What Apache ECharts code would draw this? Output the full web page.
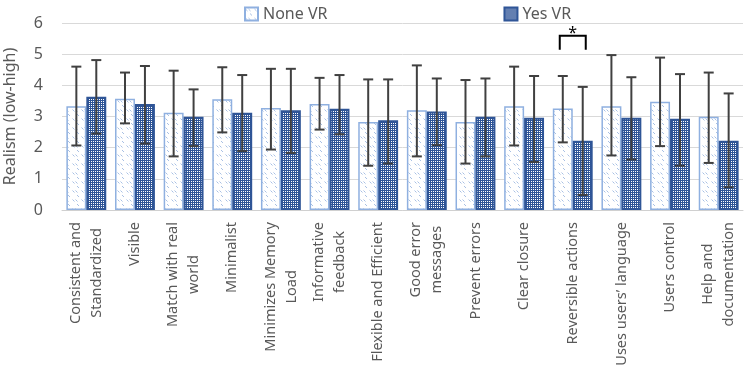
<!DOCTYPE html>
<html>
<head>
	<meta charset="utf-8">
	<script type="text/javascript" src="https://cdn.jsdelivr.net/npm/echarts@6/dist/echarts.min.js"></script>
	<style>body{margin:0;background:#fff;}</style>
</head>
<body>
	<div id="main" style="width:747px;height:376px;"></div>
	<script type="text/javascript">
		var categories = ['Consistent and\nStandardized', 'Visible', 'Match with real\nworld', 'Minimalist',
			'Minimizes Memory\nLoad', 'Informative\nfeedback', 'Flexible and Efficient', 'Good error\nmessages',
			'Prevent errors', 'Clear closure', 'Reversible actions', 'Uses users\u2019 language', 'Users control',
			'Help and\ndocumentation'];
		var noneVR   = [3.33, 3.57, 3.12, 3.55, 3.27, 3.40, 2.82, 3.20, 2.82, 3.33, 3.26, 3.33, 3.47, 2.99];
		var noneLow  = [2.07, 2.78, 1.72, 2.49, 1.94, 2.58, 1.42, 1.72, 1.49, 2.07, 2.17, 1.75, 2.05, 1.51];
		var noneHigh = [4.60, 4.41, 4.47, 4.58, 4.53, 4.24, 4.19, 4.64, 4.17, 4.60, 4.30, 4.97, 4.89, 4.41];
		var yesVR    = [3.63, 3.40, 2.99, 3.12, 3.20, 3.25, 2.88, 3.16, 2.99, 2.96, 2.22, 2.96, 2.93, 2.22];
		var yesLow   = [2.45, 2.13, 2.05, 1.89, 1.83, 2.43, 1.49, 2.08, 1.72, 1.54, 0.48, 1.62, 1.42, 0.73];
		var yesHigh  = [4.81, 4.62, 3.87, 4.33, 4.53, 4.33, 4.19, 4.22, 4.22, 4.30, 3.95, 4.26, 4.36, 3.74];
		var yTicks = [0, 1, 2, 3, 4, 5, 6];
		// significance marker: category index, bracket top, bracket leg bottom
		var sigMark = [[10, 5.59, 5.14]];

		var FONT = 'Noto Sans';
		var GAP = 0.18;

		// hatch patterns for the bars
		function makePattern(kind) {
			var c = document.createElement('canvas');
			var ctx = c.getContext('2d');
			if (kind === 'none') {
				c.width = 9; c.height = 9;
				ctx.fillStyle = '#ffffff';
				ctx.fillRect(0, 0, 9, 9);
				ctx.strokeStyle = '#a8c0e4';
				ctx.lineWidth = 1;
				ctx.beginPath();
				ctx.moveTo(0.5, 1.5); ctx.lineTo(2.5, 3.5);
				ctx.moveTo(3.5, 1.5); ctx.lineTo(5.5, 3.5);
				ctx.moveTo(5, 6); ctx.lineTo(7, 8);
				ctx.stroke();
			} else {
				c.width = 2; c.height = 2;
				ctx.fillStyle = '#2f5597';
				ctx.fillRect(0, 0, 2, 2);
				ctx.fillStyle = '#ffffff';
				ctx.fillRect(1, 1, 1, 1);
			}
			return { image: c, repeat: 'repeat' };
		}

		function errorItem(sign) {
			return function (params, api) {
				var idx = api.value(0);
				var lo = api.coord([idx, api.value(1)]);
				var hi = api.coord([idx, api.value(2)]);
				var barW = api.size([1, 0])[0] * (1 - GAP) / 2;
				var x = hi[0] + sign * barW / 2;
				var cap = 5;
				var st = { stroke: '#404040', lineWidth: 2 };
				return {
					type: 'group',
					children: [
						{ type: 'line', shape: { x1: x, y1: hi[1], x2: x, y2: lo[1] }, style: st },
						{ type: 'line', shape: { x1: x - cap, y1: hi[1], x2: x + cap, y2: hi[1] }, style: st },
						{ type: 'line', shape: { x1: x - cap, y1: lo[1], x2: x + cap, y2: lo[1] }, style: st }
					]
				};
			};
		}

		function sigItem(params, api) {
			var idx = api.value(0);
			var top = api.coord([idx, api.value(1)]);
			var bot = api.coord([idx, api.value(2)]);
			var half = 13;
			return {
				type: 'group',
				children: [
					{
						type: 'polyline',
						shape: { points: [[top[0] - half, bot[1]], [top[0] - half, top[1]], [top[0] + half, top[1]], [top[0] + half, bot[1]]] },
						style: { stroke: '#000000', lineWidth: 2, fill: null }
					},
					{
						type: 'text',
						style: { text: '*', x: top[0], y: top[1] - 2, align: 'center', verticalAlign: 'middle',
							fontSize: 16, fontFamily: FONT, fill: '#000000' }
					}
				]
			};
		}

		function pairs(lo, hi) {
			var out = [];
			for (var i = 0; i < lo.length; i++) out.push([i, lo[i], hi[i]]);
			return out;
		}

		var chart = echarts.init(document.getElementById('main'));
		chart.setOption({
			animation: false,
			textStyle: { fontFamily: FONT },
			legend: {
				left: 239, top: 1,
				itemGap: 176,
				itemWidth: 13, itemHeight: 13,
				icon: 'rect',
				textStyle: { fontSize: 16, color: '#595959', fontFamily: FONT },
				data: ['None VR', 'Yes VR']
			},
			grid: { left: 62, right: 4, top: 23, bottom: 166, containLabel: false, outerBoundsMode: 'none' },
			xAxis: {
				type: 'category',
				data: categories,
				axisLine: { lineStyle: { color: '#d0d0d0', width: 1 } },
				axisTick: { show: false },
				axisLabel: {
					interval: 0,
					rotate: 90,
					margin: 12,
					fontSize: 14,
					color: '#595959',
					formatter: function (v) {
						return v.split('\n').map(function (s) { return '{c|' + s + '}'; }).join('\n');
					},
					rich: { c: { align: 'center', fontSize: 14.5, lineHeight: 21, color: '#595959', fontFamily: FONT } }
				}
			},
			yAxis: {
				type: 'value',
				min: yTicks[0], max: yTicks[yTicks.length - 1], interval: 1,
				name: 'Realism (low-high)',
				nameLocation: 'middle',
				nameGap: 44,
				nameTextStyle: { fontSize: 16, color: '#595959', fontFamily: FONT },
				axisLine: { show: false },
				axisTick: { show: false },
				axisLabel: { fontSize: 16, color: '#595959', margin: 19 },
				splitLine: { lineStyle: { color: '#d9d9d9', width: 1 } }
			},
			series: [
				{
					name: 'None VR', type: 'bar', data: noneVR,
					barGap: '0%', barCategoryGap: (GAP * 100) + '%',
					itemStyle: { color: makePattern('none'), borderColor: '#8fb0e0', borderWidth: 1.5 }
				},
				{
					name: 'Yes VR', type: 'bar', data: yesVR,
					itemStyle: { color: makePattern('yes'), borderColor: '#2f5597', borderWidth: 2 }
				},
				{
					name: 'noneErr', type: 'custom', renderItem: errorItem(-1), data: pairs(noneLow, noneHigh),
					encode: { x: 0, y: [1, 2] }, z: 5, silent: true
				},
				{
					name: 'yesErr', type: 'custom', renderItem: errorItem(1), data: pairs(yesLow, yesHigh),
					encode: { x: 0, y: [1, 2] }, z: 5, silent: true
				},
				{
					name: 'sig', type: 'custom', renderItem: sigItem, data: sigMark,
					encode: { x: 0, y: [1, 2] }, z: 6, silent: true
				}
			]
		});
	</script>
</body>
</html>
